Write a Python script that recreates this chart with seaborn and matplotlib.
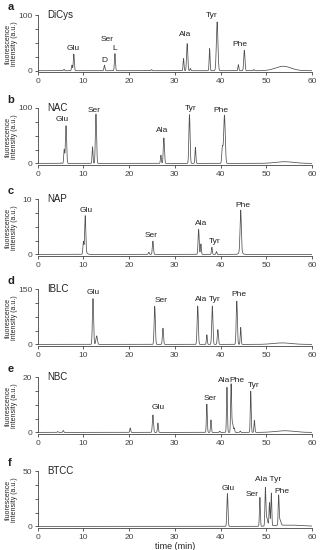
import numpy as np
import matplotlib
matplotlib.use("Agg")
import matplotlib.pyplot as plt
import seaborn as sns

# panel letters, reagent names and y-axis maxima
panel_letters = ["a", "b", "c", "d", "e", "f"]
reagents = ["DiCys", "NAC", "NAP", "IBLC", "NBC", "BTCC"]
y_max = [100, 100, 10, 150, 20, 50]

# peaks: retention time (min), height (a.u.), width (sigma, min)
rt_a = [5.75, 7.5, 7.9, 14.6, 16.9, 24.9, 31.9, 32.7, 33.4, 37.6, 39.25, 43.9, 45.2, 47.3, 53.7]
h_a = [2.5, 10, 30, 10, 31, 2, 22, 49, 4, 40, 88, 11, 37, 2, 8]
w_a = [0.1, 0.1, 0.11, 0.11, 0.11, 0.1, 0.1, 0.13, 0.1, 0.1, 0.17, 0.1, 0.13, 0.1, 1.7]

rt_b = [5.1, 5.8, 6.2, 12.0, 12.75, 26.95, 27.6, 33.2, 34.5, 40.4, 40.85, 54.0]
h_b = [1, 25, 68, 30, 89, 15, 46, 88, 29, 29, 87, 3]
w_b = [0.1, 0.1, 0.13, 0.1, 0.13, 0.1, 0.13, 0.13, 0.1, 0.13, 0.17, 2.0]

rt_c = [10.0, 10.4, 10.4, 24.3, 25.2, 35.2, 35.7, 38.1, 39.1, 44.4, 44.4]
h_c = [2.1, 6.5, 0.5, 0.4, 2.4, 4.5, 1.9, 1.3, 0.5, 7.5, 0.5]
w_c = [0.1, 0.12, 0.35, 0.1, 0.12, 0.12, 0.1, 0.1, 0.1, 0.14, 0.35]

rt_d = [12.1, 12.9, 25.6, 27.4, 35.0, 37.0, 38.2, 39.4, 43.55, 44.4, 53.5]
h_d = [124, 23, 103, 44, 104, 26, 104, 40, 117, 46, 4]
w_d = [0.13, 0.16, 0.13, 0.12, 0.13, 0.1, 0.13, 0.12, 0.13, 0.1, 2.0]

rt_e = [4.4, 5.6, 20.25, 25.2, 26.3, 37.0, 37.9, 39.8, 41.4, 42.3, 42.6, 43.0, 44.3, 46.6, 47.4, 54.0]
h_e = [0.3, 0.7, 1.6, 6.3, 3.4, 10.2, 4.5, 0.4, 16.3, 17.1, 3.5, 1.5, 0.5, 14.9, 4.4, 0.6]
w_e = [0.1, 0.1, 0.1, 0.12, 0.1, 0.1, 0.1, 0.1, 0.1, 0.1, 0.15, 0.1, 0.1, 0.1, 0.1, 2.0]

rt_f = [41.5, 48.6, 49.8, 50.1, 50.7, 51.1, 52.7, 53.0, 55.0]
h_f = [29.6, 26, 32.4, 8, 21, 29.6, 26, 5, 1.2]
w_f = [0.12, 0.1, 0.1, 0.2, 0.1, 0.1, 0.1, 0.2, 3.0]

# peak labels: text, x (min), y (a.u.)
lab_a = ["Glu", "D", "Ser", "L", "Ala", "Tyr", "Phe"]
lx_a = [7.7, 14.5, 15.3, 16.9, 32.3, 38.0, 44.2]
ly_a = [40, 18, 57, 40, 65, 100, 48]

lab_b = ["Glu", "Ser", "Ala", "Tyr", "Phe"]
lx_b = [5.3, 12.3, 27.2, 33.4, 40.0]
ly_b = [80, 96, 59, 100, 96]

lab_c = ["Glu", "Ser", "Ala", "Tyr", "Phe"]
lx_c = [10.6, 24.9, 35.8, 38.7, 44.8]
ly_c = [7.9, 3.4, 5.6, 2.3, 8.8]

lab_d = ["Glu", "Ser", "Ala", "Tyr", "Phe"]
lx_d = [12.2, 26.9, 35.8, 38.7, 43.9]
ly_d = [141, 120, 122, 122, 134]

lab_e = ["Glu", "Ser", "Ala", "Phe", "Tyr"]
lx_e = [26.4, 37.7, 40.8, 43.6, 47.3]
ly_e = [9.1, 12.2, 18.9, 18.9, 17.1]

lab_f = ["Glu", "Ser", "Ala Tyr", "Phe"]
lx_f = [41.7, 47.0, 50.4, 53.4]
ly_f = [34, 28.7, 42, 31.5]

peaks = [(rt_a, h_a, w_a), (rt_b, h_b, w_b), (rt_c, h_c, w_c),
         (rt_d, h_d, w_d), (rt_e, h_e, w_e), (rt_f, h_f, w_f)]
labels = [(lab_a, lx_a, ly_a), (lab_b, lx_b, ly_b), (lab_c, lx_c, ly_c),
          (lab_d, lx_d, ly_d), (lab_e, lx_e, ly_e), (lab_f, lx_f, ly_f)]

sns.set_theme(style="ticks")
plt.rcParams["font.family"] = ["Liberation Sans", "DejaVu Sans"]
plt.rcParams["axes.edgecolor"] = "#444444"
plt.rcParams["xtick.color"] = "#444444"
plt.rcParams["ytick.color"] = "#444444"
plt.rcParams["text.color"] = "#222222"

fig = plt.figure(figsize=(3.22, 5.5), dpi=100)

# top of each panel (pixel row of y max)
top_px = [15.3, 108, 199, 289, 377, 471]
h_px = 55.4
t = np.linspace(0, 60, 6001)

for i in range(6):
    ymax = y_max[i]
    ylo = -0.03 * ymax
    full_px = h_px * (ymax - ylo) / ymax
    bottom = 1 - (top_px[i] + full_px) / 550
    ax = fig.add_axes([0.117, bottom, 0.852, full_px / 550])

    rt, hh, ww = peaks[i]
    trace = np.zeros_like(t)
    for r, h, w in zip(rt, hh, ww):
        trace += h * np.exp(-0.5 * ((t - r) / w) ** 2)

    sns.lineplot(x=t, y=trace, ax=ax, color="#505050", linewidth=0.55)

    ax.set_xlim(0, 60)
    ax.set_ylim(ylo, ymax)
    ax.set_xticks(range(0, 61, 10))
    ax.set_yticks([0, ymax / 4, ymax / 2, 3 * ymax / 4, ymax])
    ax.set_yticklabels(["0", "", "", "", str(ymax)])
    ax.tick_params(labelsize=6, length=2.5, width=0.6, pad=1.5)
    sns.despine(ax=ax)
    ax.spines["left"].set_linewidth(0.6)
    ax.spines["bottom"].set_linewidth(0.6)
    ax.spines["left"].set_bounds(0, ymax)

    ax.set_ylabel("fluorescence\nintensity (a.u.)", fontsize=5, linespacing=1.0)
    ax.yaxis.set_label_coords(-0.07, 0.5)
    ax.text(2.0, ymax, reagents[i], fontsize=7, ha="left", va="center")

    names, lx, ly = labels[i]
    for n, x, y in zip(names, lx, ly):
        ax.text(x, y, n, fontsize=6, ha="center", va="center")

    fig.text(0.024, 1 - (top_px[i] - 8) / 550, panel_letters[i],
             fontsize=8, fontweight="bold", ha="left", va="center")

    if i == 5:
        ax.set_xlabel("time (min)", fontsize=6.5, labelpad=1)
    else:
        ax.set_xlabel("")

fig.savefig("out.png", dpi=100)
